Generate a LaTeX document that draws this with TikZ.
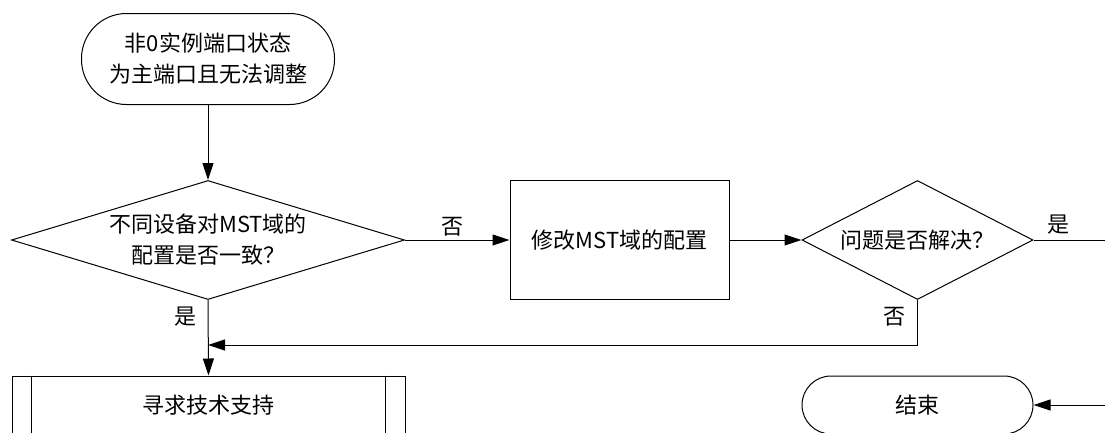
\documentclass[tikz,border=0pt]{standalone}
\usepackage{fontspec}
\setmainfont{Noto Sans CJK SC}
\usetikzlibrary{shapes.geometric,arrows.meta,positioning}
\begin{document}
\begin{tikzpicture}[x=1pt,y=-1pt,
    every node/.style={font=\fontsize{22}{31}\selectfont, align=center},
    caja/.style={draw, line width=1pt, inner sep=0pt},
    decision/.style={caja, diamond},
    flecha/.style={line width=1pt, -{Triangle[length=17pt,width=11pt]}},
    linea/.style={line width=1pt}]
    \useasboundingbox (0,0) rectangle (1105,432);
    \clip (0,0) rectangle (1105,432);
    % Nodos
    \node[caja, rounded corners=45pt, minimum width=253pt, minimum height=91pt]
        (inicio) at (208,59) {非0实例端口状态\\为主端口且无法调整};
    \node[decision, shape aspect=3.3, minimum width=393pt, minimum height=119pt]
        (mst) at (208,240) {不同设备对MST域的\\配置是否一致？};
    \node[caja, minimum width=219pt, minimum height=119pt]
        (modif) at (619.5,240) {修改MST域的配置};
    \node[decision, shape aspect=1.94, minimum width=231pt, minimum height=119pt]
        (resuelto) at (917.5,240) {问题是否解决？};
    \node[caja, minimum width=393pt, minimum height=58pt]
        (soporte) at (208.5,405) {寻求技术支持};
    \draw[linea] ([xshift=20pt]soporte.north west) -- ([xshift=20pt]soporte.south west)
        ([xshift=-20pt]soporte.north east) -- ([xshift=-20pt]soporte.south east);
    \node[caja, rounded corners=29pt, minimum width=231pt, minimum height=58pt]
        (fin) at (917.5,405) {结束};
    % Conectores
    \coordinate (union) at (208,345);
    \coordinate (salida) at (1105,240);
    \coordinate (entrada) at (1105,405);
    \draw[flecha] (inicio) -- (mst);
    \draw[flecha] (mst.east) -- node[above, pos=.45] {否} (modif.west);
    \draw[flecha] (modif.east) -- (resuelto.west);
    \draw[linea] (resuelto.east) -- (salida);
    \node[above right=2pt and 10pt] at (resuelto.east) {是};
    \draw[flecha] (mst.south) -- (soporte.north);
    \node[left=8pt] at ([yshift=-17pt]mst.south) {是};
    \draw[flecha] (resuelto.south) |- (union);
    \node[left=8pt] at ([yshift=-17pt]resuelto.south) {否};
    \draw[flecha] (entrada) -- (fin.east);
\end{tikzpicture}
\end{document}
